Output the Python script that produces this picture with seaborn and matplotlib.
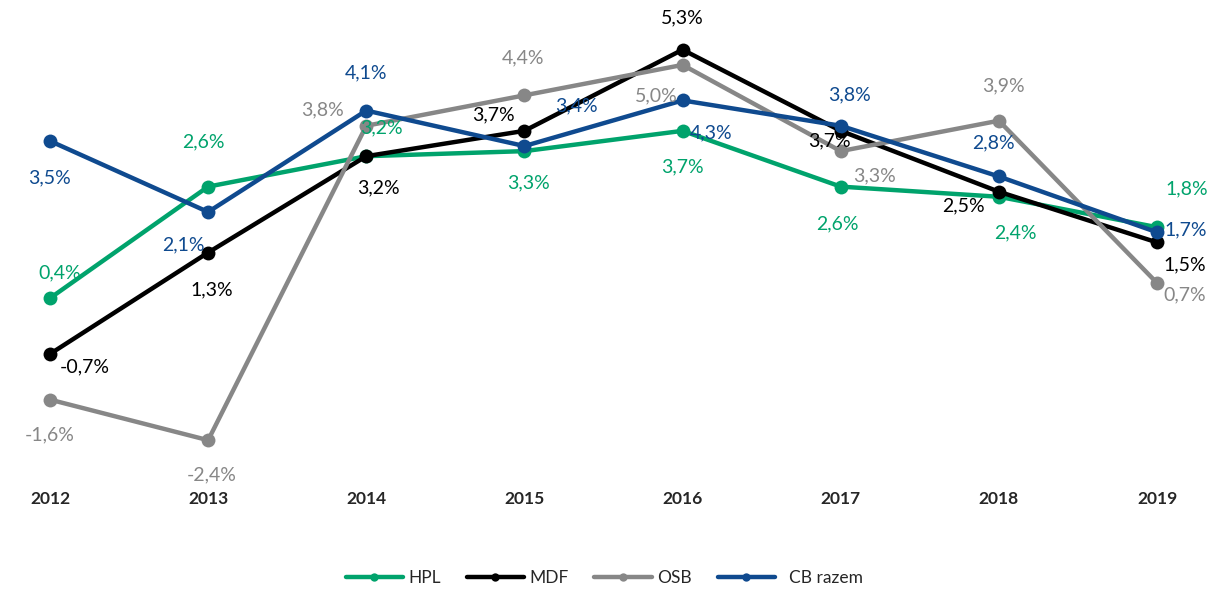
import pandas as pd
import matplotlib.pyplot as plt
import seaborn as sns

# data
years = [2012, 2013, 2014, 2015, 2016, 2017, 2018, 2019]
series_names = ["HPL", "MDF", "OSB", "CB razem"]
hpl = [0.4, 2.6, 3.2, 3.3, 3.7, 2.6, 2.4, 1.8]
mdf = [-0.7, 1.3, 3.2, 3.7, 5.3, 3.7, 2.5, 1.5]
osb = [-1.6, -2.4, 3.8, 4.4, 5.0, 3.3, 3.9, 0.7]
cb = [3.5, 2.1, 4.1, 3.4, 4.3, 3.8, 2.8, 1.7]

colors = ["#00A36C", "#000000", "#878787", "#0F4A8F"]

# label offsets (pixels) per series, per year
offsets = [
    [(10, 25), (-5, 45), (15, 28), (4, -32), (0, -36), (-3, -37), (17, -36), (30, 38)],
    [(35, -13), (4, -37), (12, -32), (-31, 16), (0, 32), (-11, -10), (-35, -14), (28, -22)],
    [(0, -35), (4, -35), (-44, 16), (-1, 37), (-26, -31), (34, -25), (5, 35), (28, -12)],
    [(0, -37), (-25, -33), (0, 38), (52, 40), (29, -32), (9, 31), (-5, 34), (29, 2)],
]

values = [hpl, mdf, osb, cb]
df = pd.DataFrame({
    "year": years * 4,
    "value": hpl + mdf + osb + cb,
    "series": [s for s in series_names for _ in years],
})

sns.set_style("white")
plt.rcParams["font.family"] = ["Lato", "DejaVu Sans"]

fig = plt.figure(figsize=(12.16, 5.92), dpi=100)
ax = fig.add_axes([0, 112 / 592, 1, 480 / 592])

sns.lineplot(data=df, x="year", y="value", hue="series", hue_order=series_names,
             palette=colors, marker="o", markersize=10, markeredgewidth=0,
             linewidth=3.2, ax=ax, legend=False)

for vals, offs, col in zip(values, offsets, colors):
    for x, v, (dx, dy) in zip(years, vals, offs):
        ax.annotate(f"{v:.1f}%".replace(".", ","), (x, v), xytext=(dx, dy),
                    textcoords="offset pixels", ha="center", va="center",
                    fontsize=14, color=col)

ax.set_xlim(2011.684, 2019.373)
ax.set_ylim(-3.185, 6.28)
ax.set_xticks(years)
ax.set_xticklabels([str(y) for y in years], fontsize=12.5, fontweight="bold")
ax.set_yticks([])
ax.tick_params(axis="x", length=0, pad=8)
ax.set_xlabel("")
ax.set_ylabel("")
sns.despine(ax=ax, left=True, bottom=True, top=True, right=True)

handles = ax.get_lines()[:4]
labels = ["HPL", "MDF", "OSB", "  CB razem"]
fig.legend(handles, labels, loc="center", bbox_to_anchor=(0.497, 1 - 578 / 592),
           ncol=4, frameon=False, fontsize=12.5, handlelength=3.3,
           handletextpad=0.3, columnspacing=1.5, markerscale=0.6)

fig.savefig("out.png", dpi=100)
